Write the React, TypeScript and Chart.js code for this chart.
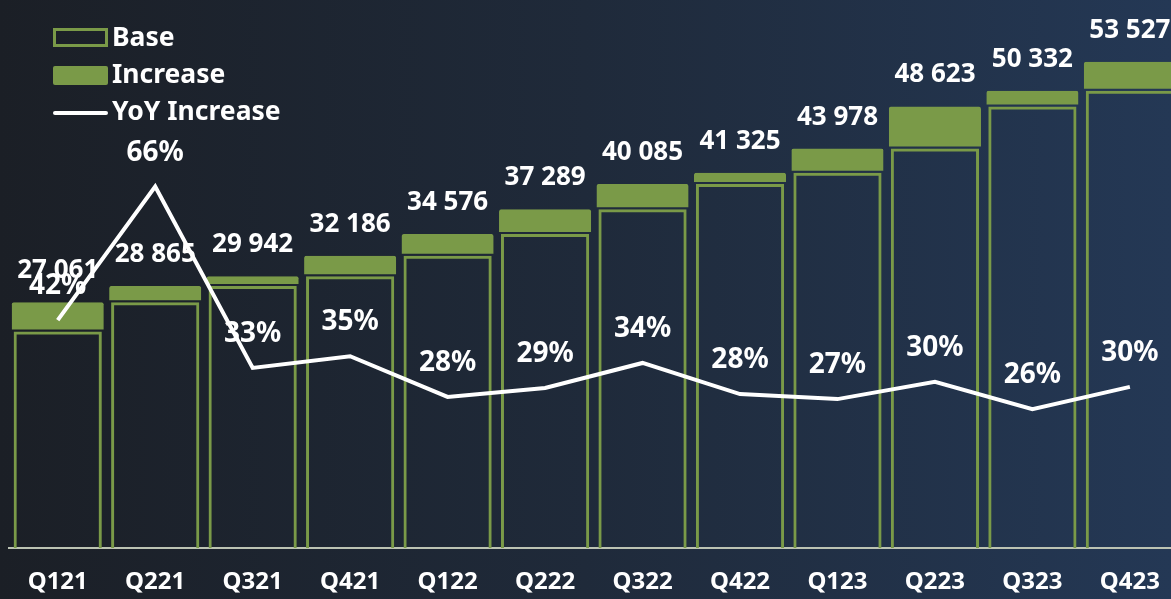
import React, { useEffect, useRef } from "react";
import { Chart, registerables } from "chart.js";

Chart.register(...registerables);

const FONT = '"Noto Sans", "Open Sans", sans-serif';
const GREEN = "#7a9a48";

const categories = ["Q121", "Q221", "Q321", "Q421", "Q122", "Q222", "Q322", "Q422", "Q123", "Q223", "Q323", "Q423"];
const totals = [27061, 28865, 29942, 32186, 34576, 37289, 40085, 41325, 43978, 48623, 50332, 53527];
const baseValues = [23850, 27061, 28865, 29942, 32186, 34576, 37289, 40085, 41325, 43978, 48623, 50332];
const increaseValues = [3211, 1804, 1077, 2244, 2390, 2713, 2796, 1240, 2653, 4645, 1709, 3195];
const yoyValues = [42, 66, 33.4, 35.5, 28.2, 29.8, 34.3, 28.7, 27.8, 30.9, 26, 30];
const legendLabels = ["Base", "Increase", "YoY Increase"];

const fmtTotal = (v: number) => String(v).replace(/\B(?=(\d{3})+(?!\d))/g, " ");

const overlayPlugin = {
  id: "overlay",
  afterDatasetsDraw(chart: any) {
    const ctx = chart.ctx as CanvasRenderingContext2D;
    const incMeta = chart.getDatasetMeta(1);
    const lineMeta = chart.getDatasetMeta(2);
    ctx.save();
    ctx.fillStyle = "#ffffff";
    ctx.textAlign = "center";
    ctx.textBaseline = "alphabetic";
    ctx.font = `bold 26px ${FONT}`;
    incMeta.data.forEach((el: any, i: number) => {
      ctx.fillText(fmtTotal(totals[i]), el.x, el.y - 24);
    });
    ctx.font = `bold 28px ${FONT}`;
    lineMeta.data.forEach((pt: any, i: number) => {
      ctx.fillText(Math.floor(yoyValues[i]) + "%", pt.x, pt.y - 26);
    });

    // legend
    const bx = 53;
    const bw = 55;
    ctx.strokeStyle = GREEN;
    ctx.lineWidth = 3;
    ctx.strokeRect(bx + 1.5, 29.5, bw - 3, 16);
    ctx.fillStyle = GREEN;
    ctx.beginPath();
    (ctx as any).roundRect(bx, 66, bw, 19, 2);
    ctx.fill();
    ctx.fillStyle = "#ffffff";
    ctx.beginPath();
    (ctx as any).roundRect(bx, 111, bw, 4, 2);
    ctx.fill();
    ctx.textAlign = "left";
    ctx.textBaseline = "middle";
    ctx.font = `bold 26.5px ${FONT}`;
    const ys = [38.5, 75.5, 112.5];
    legendLabels.forEach((t, i) => ctx.fillText(t, 112, ys[i]));
    ctx.restore();
  },
};

export default function App() {
  const ref = useRef<HTMLCanvasElement | null>(null);

  useEffect(() => {
    if (!ref.current) return;
    const chart = new Chart(ref.current, {
      type: "bar",
      data: {
        labels: categories,
        datasets: [
          {
            type: "bar",
            label: legendLabels[0],
            data: baseValues,
            backgroundColor: "rgba(0,0,0,0)",
            borderColor: GREEN,
            borderWidth: 3,
            borderSkipped: "bottom",
            barPercentage: 0.905,
            categoryPercentage: 1,
            stack: "s",
            order: 1,
          },
          {
            type: "bar",
            label: legendLabels[1],
            data: increaseValues,
            backgroundColor: GREEN,
            borderColor: "rgba(0,0,0,0)",
            borderWidth: { top: 0, left: 0, right: 0, bottom: 2 },
            borderSkipped: false,
            borderRadius: 2,
            barPercentage: 0.945,
            categoryPercentage: 1,
            stack: "s",
            order: 1,
          },
          {
            type: "line",
            label: legendLabels[2],
            data: yoyValues,
            yAxisID: "y2",
            borderColor: "#ffffff",
            borderWidth: 4,
            pointRadius: 0,
            tension: 0,
            fill: false,
            order: 0,
          },
        ],
      } as any,
      options: {
        animation: false,
        responsive: false,
        maintainAspectRatio: false,
        layout: { padding: { left: 9, right: 1, top: 3, bottom: 0 } },
        plugins: {
          legend: { display: false },
          tooltip: { enabled: false },
        },
        scales: {
          x: {
            stacked: true,
            offset: true,
            z: 1,
            grid: { display: false, drawTicks: false },
            border: { display: true, color: "#bcc3b3", width: 2 },
            ticks: {
              color: "#ffffff",
              font: { family: FONT, size: 24, weight: "bold" },
              padding: 20,
              maxRotation: 0,
              autoSkip: false,
            },
          },
          y: {
            stacked: true,
            display: false,
            min: 0,
            max: 60000,
          },
          y2: {
            display: false,
            min: 1,
            max: 99,
          },
        },
      } as any,
      plugins: [overlayPlugin],
    });
    return () => chart.destroy();
  }, []);

  return (
    <div
      style={{
        position: "fixed",
        left: 0,
        top: 0,
        width: 1171,
        height: 599,
        overflow: "hidden",
        background: "linear-gradient(90deg, #1b1f26 0%, #1f2a3a 50%, #243855 100%)",
      }}
    >
      <canvas ref={ref} width={1180} height={617} style={{ display: "block", width: 1180, height: 617 }} />
    </div>
  );
}
